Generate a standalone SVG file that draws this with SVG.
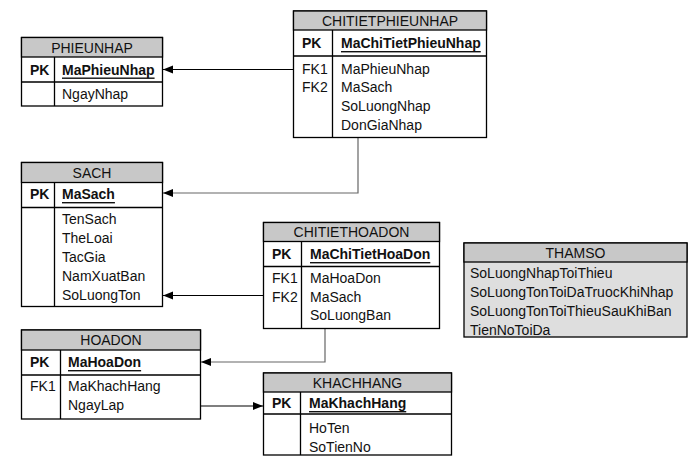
<svg xmlns="http://www.w3.org/2000/svg" width="697" height="466" viewBox="0 0 697 466">
<defs>
<style>
text{font-family:"Liberation Sans",Arial,sans-serif;font-size:14px;fill:#111;dominant-baseline:central}
.hd{fill:#c8c8c8;stroke:#000;stroke-width:1.3}
.bx{fill:#fff;stroke:#000;stroke-width:1.3}
.ln{stroke:#000;stroke-width:1.3;fill:none}
.ttl{text-anchor:middle}
.b{font-weight:bold}
.u{font-weight:bold;text-decoration:underline}
.c{fill:none;stroke:#000;stroke-width:1.2;marker-end:url(#ah)}
.g{stroke:#666}
</style>
<marker id="ah" markerUnits="userSpaceOnUse" markerWidth="10" markerHeight="10" viewBox="0 0 10 10" refX="10" refY="5" orient="auto">
<path d="M0,1 L10,5 L0,9 Z" fill="#000"/>
</marker>
</defs>
<g id="connectors">
<path class="c" d="M293.5 69.5 H163"/>
<path class="c g" d="M358 138 V193 H163"/>
<path class="c" d="M263.5 295.5 H163"/>
<path class="c g" d="M325 329 V362 H201"/>
<path class="c" d="M200.5 406 H263"/>
</g>
<g id="PHIEUNHAP">
<rect class="bx" x="21.5" y="37.5" width="141" height="68.5"/>
<rect class="hd" x="21.5" y="37.5" width="141" height="19.5"/>
<path class="ln" d="M21.5 82 H162.5 M54.5 57 V106"/>
<text class="ttl" x="92" y="47.5">PHIEUNHAP</text>
<text class="b" x="30" y="69.5">PK</text>
<text class="u" x="62" y="69.5">MaPhieuNhap</text>
<text x="62" y="94">NgayNhap</text>
</g>
<g id="CHITIETPHIEUNHAP">
<rect class="bx" x="293.5" y="11" width="193" height="126.5"/>
<rect class="hd" x="293.5" y="11" width="193" height="19"/>
<path class="ln" d="M293.5 56 H486.5 M332.5 30 V137.5"/>
<text class="ttl" x="390" y="20.5">CHITIETPHIEUNHAP</text>
<text class="b" x="302" y="43">PK</text>
<text class="u" x="341" y="43">MaChiTietPhieuNhap</text>
<text x="302" y="69">FK1</text>
<text x="302" y="87">FK2</text>
<text x="341" y="69">MaPhieuNhap</text>
<text x="341" y="87">MaSach</text>
<text x="341" y="106">SoLuongNhap</text>
<text x="341" y="125">DonGiaNhap</text>
</g>
<g id="SACH">
<rect class="bx" x="21.5" y="162.5" width="141" height="144"/>
<rect class="hd" x="21.5" y="162.5" width="141" height="20"/>
<path class="ln" d="M21.5 207.5 H162.5 M54.5 182.5 V306.5"/>
<text class="ttl" x="92" y="172.5">SACH</text>
<text class="b" x="30" y="194">PK</text>
<text class="u" x="62" y="194">MaSach</text>
<text x="62" y="219">TenSach</text>
<text x="62" y="238">TheLoai</text>
<text x="62" y="257">TacGia</text>
<text x="62" y="276">NamXuatBan</text>
<text x="62" y="295">SoLuongTon</text>
</g>
<g id="CHITIETHOADON">
<rect class="bx" x="263.5" y="222.5" width="176" height="106"/>
<rect class="hd" x="263.5" y="222.5" width="176" height="19"/>
<path class="ln" d="M263.5 266.5 H439.5 M301.5 241.5 V328.5"/>
<text class="ttl" x="351.5" y="232">CHITIETHOADON</text>
<text class="b" x="272" y="254">PK</text>
<text class="u" x="310" y="254">MaChiTietHoaDon</text>
<text x="272" y="278">FK1</text>
<text x="272" y="297">FK2</text>
<text x="310" y="278">MaHoaDon</text>
<text x="310" y="297">MaSach</text>
<text x="310" y="315">SoLuongBan</text>
</g>
<g id="HOADON">
<rect class="bx" x="21.5" y="330" width="179" height="89"/>
<rect class="hd" x="21.5" y="330" width="179" height="20"/>
<path class="ln" d="M21.5 375 H200.5 M60.5 350 V419"/>
<text class="ttl" x="111" y="340">HOADON</text>
<text class="b" x="30" y="362">PK</text>
<text class="u" x="68" y="362">MaHoaDon</text>
<text x="30" y="386">FK1</text>
<text x="68" y="386">MaKhachHang</text>
<text x="68" y="405">NgayLap</text>
</g>
<g id="KHACHHANG">
<rect class="bx" x="263.5" y="373" width="188" height="82"/>
<rect class="hd" x="263.5" y="373" width="188" height="19"/>
<path class="ln" d="M263.5 414 H451.5 M300.5 392 V455"/>
<text class="ttl" x="357.5" y="382.5">KHACHHANG</text>
<text class="b" x="272" y="403">PK</text>
<text class="u" x="309" y="403">MaKhachHang</text>
<text x="309" y="428">HoTen</text>
<text x="309" y="447">SoTienNo</text>
</g>
<g id="THAMSO">
<rect x="464" y="243" width="223" height="94" fill="#dedede" stroke="#000" stroke-width="1.3"/>
<rect class="hd" x="464" y="243" width="223" height="19"/>
<text class="ttl" x="575.5" y="252.5">THAMSO</text>
<text x="470" y="273">SoLuongNhapToiThieu</text>
<text x="470" y="292">SoLuongTonToiDaTruocKhiNhap</text>
<text x="470" y="311">SoLuongTonToiThieuSauKhiBan</text>
<text x="470" y="330">TienNoToiDa</text>
</g>
</svg>
